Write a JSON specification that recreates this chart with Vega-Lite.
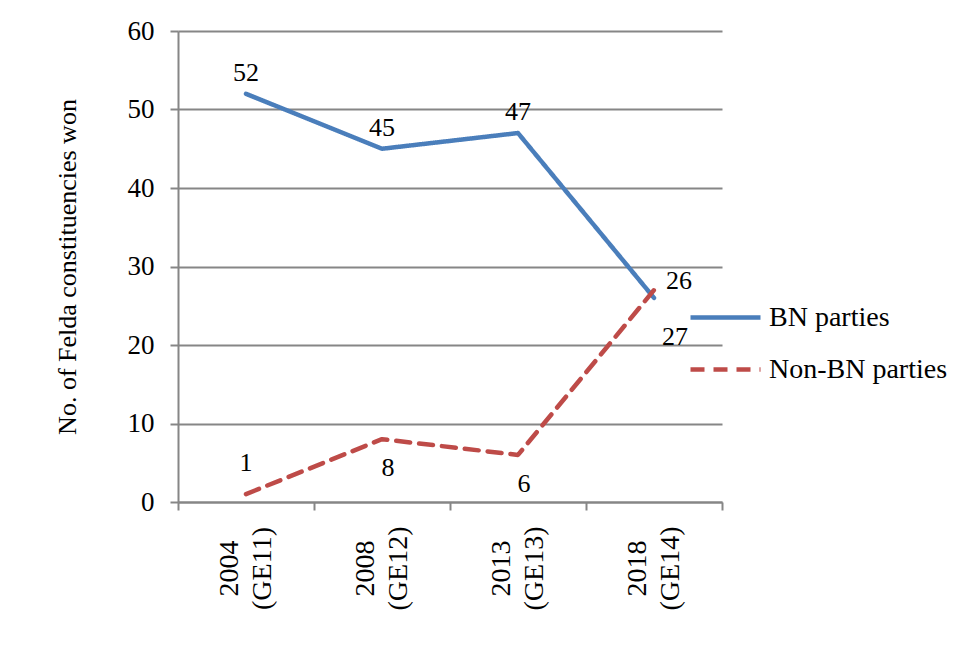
{
  "$schema": "https://vega.github.io/schema/vega-lite/v6.json",
  "width": 544,
  "height": 471,
  "autosize": {"type": "none"},
  "padding": {"left": 178, "top": 31, "right": 243, "bottom": 157},
  "background": "white",
  "config": {
    "font": "Liberation Serif",
    "view": {"stroke": null},
    "axis": {"labelFont": "Liberation Serif", "titleFont": "Liberation Serif", "labelColor": "black", "titleColor": "black"}
  },
  "data": {
    "values": [
      {"election": "2004 (GE11)", "series": "BN parties", "seats": 52},
      {"election": "2008 (GE12)", "series": "BN parties", "seats": 45},
      {"election": "2013 (GE13)", "series": "BN parties", "seats": 47},
      {"election": "2018 (GE14)", "series": "BN parties", "seats": 26},
      {"election": "2004 (GE11)", "series": "Non-BN parties", "seats": 1},
      {"election": "2008 (GE12)", "series": "Non-BN parties", "seats": 8},
      {"election": "2013 (GE13)", "series": "Non-BN parties", "seats": 6},
      {"election": "2018 (GE14)", "series": "Non-BN parties", "seats": 27}
    ]
  },
  "encoding": {
    "x": {
      "field": "election", "type": "nominal", "sort": null,
      "scale": {"type": "band", "paddingInner": 0, "paddingOuter": 0},
      "axis": {
        "title": null,
        "tickBand": "extent",
        "grid": false,
        "domainColor": "#868686", "domainWidth": 2,
        "tickColor": "#868686", "tickWidth": 2, "tickSize": 8,
        "labelAngle": 270, "labelAlign": "center", "labelBaseline": "middle",
        "labelFontSize": 28, "labelPadding": 58, "labelLineHeight": 33, "labelOffset": -17,
        "labelExpr": "split(datum.label, ' ')"
      }
    },
    "y": {
      "field": "seats", "type": "quantitative",
      "scale": {"domain": [0, 60], "nice": false},
      "axis": {
        "title": "No. of Felda constituencies won",
        "titleFontSize": 26, "titleFontWeight": "normal", "titlePadding": 47,
        "values": [0, 10, 20, 30, 40, 50, 60],
        "grid": true, "gridColor": "#868686", "gridWidth": 2,
        "domainColor": "#868686", "domainWidth": 2,
        "tickColor": "#868686", "tickWidth": 2, "tickSize": 8,
        "labelFontSize": 27, "labelPadding": 16
      }
    }
  },
  "layer": [
    {
      "mark": {"type": "line", "strokeWidth": 4.5, "strokeCap": "round", "strokeJoin": "round"},
      "encoding": {
        "color": {
          "field": "series", "type": "nominal",
          "scale": {"domain": ["BN parties", "Non-BN parties"], "range": ["#4A7EBB", "#BE4B48"]},
          "legend": {
            "title": null, "orient": "none", "legendX": 510, "legendY": 249,
            "symbolType": "stroke", "symbolSize": 4900, "symbolStrokeWidth": 4.5,
            "labelFontSize": 28, "labelFont": "Liberation Serif", "labelColor": "black",
            "rowPadding": -26, "labelOffset": 6, "labelLimit": 0
          }
        },
        "strokeDash": {
          "field": "series", "type": "nominal",
          "scale": {"domain": ["BN parties", "Non-BN parties"], "range": [[1, 0], [14, 9]]},
          "legend": {
            "title": null, "orient": "none", "legendX": 510, "legendY": 249,
            "symbolType": "stroke", "symbolSize": 4900, "symbolStrokeWidth": 4.5,
            "labelFontSize": 28, "labelFont": "Liberation Serif", "labelColor": "black",
            "rowPadding": -26, "labelOffset": 6, "labelLimit": 0
          }
        }
      }
    },
    {
      "transform": [{"filter": "datum.series == 'BN parties' && datum.election != '2018 (GE14)'"}],
      "mark": {"type": "text", "fontSize": 26, "baseline": "bottom", "dy": -8, "color": "black"},
      "encoding": {"text": {"field": "seats", "type": "quantitative"}}
    },
    {
      "transform": [{"filter": "datum.series == 'BN parties' && datum.election == '2018 (GE14)'"}],
      "mark": {"type": "text", "fontSize": 26, "baseline": "bottom", "align": "left", "dx": 12, "dy": -4, "color": "black"},
      "encoding": {"text": {"field": "seats", "type": "quantitative"}}
    },
    {
      "transform": [{"filter": "datum.series == 'Non-BN parties' && datum.election == '2004 (GE11)'"}],
      "mark": {"type": "text", "fontSize": 26, "baseline": "bottom", "dy": -18, "color": "black"},
      "encoding": {"text": {"field": "seats", "type": "quantitative"}}
    },
    {
      "transform": [{"filter": "datum.series == 'Non-BN parties' && (datum.election == '2008 (GE12)' || datum.election == '2013 (GE13)')"}],
      "mark": {"type": "text", "fontSize": 26, "baseline": "top", "dy": 16, "dx": 6, "color": "black"},
      "encoding": {"text": {"field": "seats", "type": "quantitative"}}
    },
    {
      "transform": [{"filter": "datum.series == 'Non-BN parties' && datum.election == '2018 (GE14)'"}],
      "mark": {"type": "text", "fontSize": 26, "baseline": "top", "align": "left", "dx": 8, "dy": 34, "color": "black"},
      "encoding": {"text": {"field": "seats", "type": "quantitative"}}
    }
  ]
}
